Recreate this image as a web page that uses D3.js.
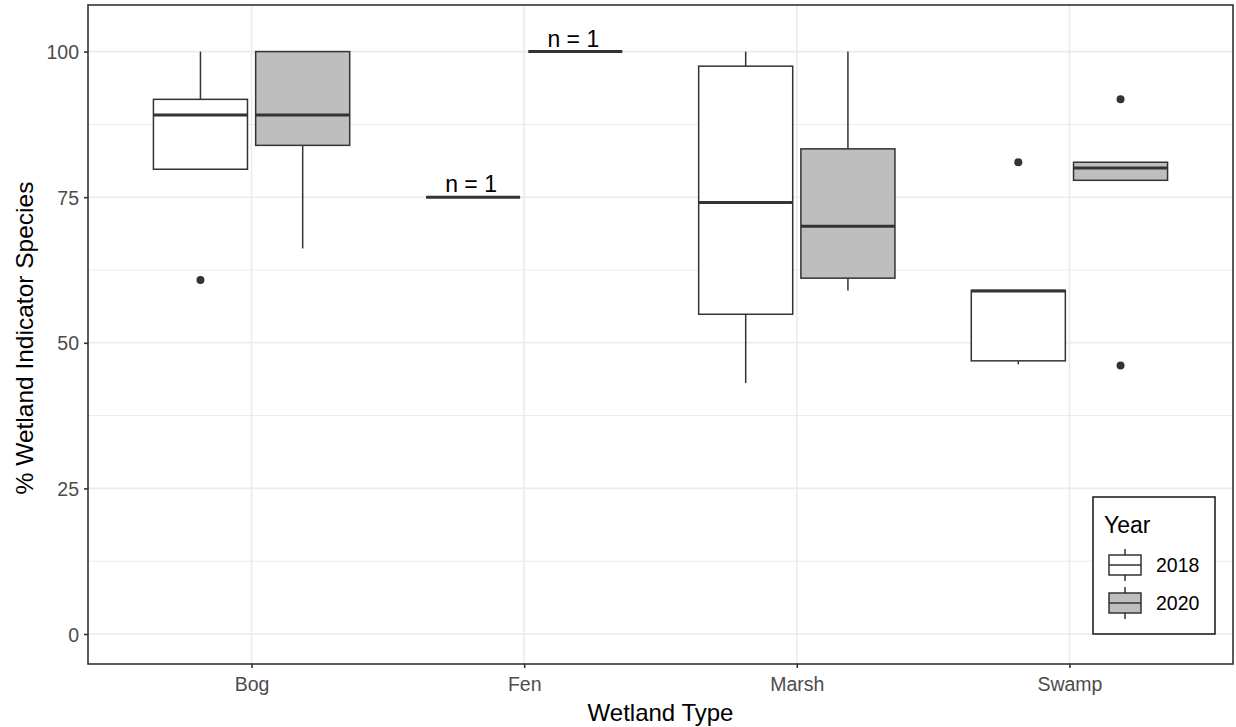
<!DOCTYPE html>
<html>
<head>
<meta charset="utf-8">
<script src="https://cdn.jsdelivr.net/npm/d3@7"></script>
<style>
body { margin: 0; background: #fff; }
svg { display: block; font-family: "Liberation Sans", Arial, sans-serif; }
</style>
</head>
<body>
<svg width="1236" height="727"></svg>
<script>
// data
var categories = ['Bog', 'Fen', 'Marsh', 'Swamp'];
var years = ['2018', '2020'];
var yTicks = [0, 25, 50, 75, 100];
var yMinor = [12.5, 37.5, 62.5, 87.5];

// [lower whisker, q1, median, q3, upper whisker] per category
var stats2018 = [
	[79.8, 79.8, 89.1, 91.8, 100],
	[75, 75, 75, 75, 75],
	[43.1, 54.9, 74.1, 97.5, 100],
	[46.3, 46.9, 58.9, 59.0, 59.0]
];
var stats2020 = [
	[66.2, 83.9, 89.1, 100, 100],
	[100, 100, 100, 100, 100],
	[59.0, 61.1, 70.0, 83.3, 100],
	[77.9, 77.9, 80.0, 81.0, 81.0]
];
var outliers2018 = [[60.8], [], [], [81.0]];
var outliers2020 = [[], [], [], [91.8, 46.1]];
var countLabels = [
	{cat: 'Fen', year: '2018', value: 75, text: 'n = 1'},
	{cat: 'Fen', year: '2020', value: 100, text: 'n = 1'}
];
var fills = {'2018': '#ffffff', '2020': '#bebebe'};

var pLeft = 88, pRight = 1233, pTop = 5, pBottom = 664;
var svg = d3.select('svg');

// ggplot discrete expand: 0.6 units on each side
var x = d3.scalePoint().domain(categories).range([pLeft, pRight]).padding(0.6);
var unit = x.step();
var dodge = d3.scaleBand().domain(years).range([-0.375 * unit, 0.375 * unit]);
var boxW = 0.345 * unit;
var y = d3.scaleLinear().domain([-5.15, 108]).range([pBottom, pTop]);

// grid
var grid = svg.append('g');
grid.selectAll('.minor').data(yMinor).enter().append('line')
	.attr('x1', pLeft).attr('x2', pRight)
	.attr('y1', function(d){return y(d)}).attr('y2', function(d){return y(d)})
	.attr('stroke', '#ebebeb').attr('stroke-width', 1);
grid.selectAll('.major').data(yTicks).enter().append('line')
	.attr('x1', pLeft).attr('x2', pRight)
	.attr('y1', function(d){return y(d)}).attr('y2', function(d){return y(d)})
	.attr('stroke', '#ebebeb').attr('stroke-width', 1.6);
grid.selectAll('.vmajor').data(categories).enter().append('line')
	.attr('y1', pTop).attr('y2', pBottom)
	.attr('x1', function(d){return x(d)}).attr('x2', function(d){return x(d)})
	.attr('stroke', '#ebebeb').attr('stroke-width', 1.6);

// boxes
var boxes = [];
categories.forEach(function(c, i){
	boxes.push({cat: c, year: '2018', s: stats2018[i], out: outliers2018[i]});
	boxes.push({cat: c, year: '2020', s: stats2020[i], out: outliers2020[i]});
});

var g = svg.append('g');
boxes.forEach(function(b){
	var cx = x(b.cat) + dodge(b.year) + dodge.bandwidth() / 2;
	var s = b.s;
	var bg = g.append('g');
	if (s[4] > s[3]) bg.append('line').attr('x1', cx).attr('x2', cx)
		.attr('y1', y(s[3])).attr('y2', y(s[4])).attr('stroke', '#333').attr('stroke-width', 1.5);
	if (s[0] < s[1]) bg.append('line').attr('x1', cx).attr('x2', cx)
		.attr('y1', y(s[1])).attr('y2', y(s[0])).attr('stroke', '#333').attr('stroke-width', 1.5);
	bg.append('rect')
		.attr('x', cx - boxW / 2).attr('width', boxW)
		.attr('y', y(s[3])).attr('height', Math.max(0, y(s[1]) - y(s[3])))
		.attr('fill', fills[b.year]).attr('stroke', '#333').attr('stroke-width', 1.5);
	bg.append('line').attr('x1', cx - boxW / 2).attr('x2', cx + boxW / 2)
		.attr('y1', y(s[2])).attr('y2', y(s[2]))
		.attr('stroke', '#333').attr('stroke-width', 3);
	bg.selectAll('circle').data(b.out).enter().append('circle')
		.attr('cx', cx).attr('cy', function(d){return y(d)}).attr('r', 4)
		.attr('fill', '#333');
});

// n = 1 labels
g.selectAll('.nlab').data(countLabels).enter().append('text')
	.attr('x', function(d){return x(d.cat) + dodge(d.year) + dodge.bandwidth() / 2 - 2})
	.attr('y', function(d){return y(d.value) - 5})
	.attr('text-anchor', 'middle').attr('font-size', 23).attr('fill', '#000')
	.text(function(d){return d.text});

// panel border
svg.append('rect').attr('x', pLeft).attr('y', pTop)
	.attr('width', pRight - pLeft).attr('height', pBottom - pTop)
	.attr('fill', 'none').attr('stroke', '#333').attr('stroke-width', 1.6);

// axes
var yAxis = svg.append('g').attr('transform', 'translate(' + pLeft + ',0)')
	.call(d3.axisLeft(y).tickValues(yTicks).tickSize(4).tickPadding(5));
var xAxis = svg.append('g').attr('transform', 'translate(0,' + pBottom + ')')
	.call(d3.axisBottom(x).tickSize(4).tickPadding(9));
[yAxis, xAxis].forEach(function(a){
	a.select('.domain').remove();
	a.selectAll('.tick line').attr('stroke', '#333').attr('stroke-width', 1.6);
	a.selectAll('.tick text').attr('fill', '#4d4d4d').attr('font-size', 19.5)
		.attr('font-family', '"Liberation Sans", Arial, sans-serif');
});
yAxis.selectAll('.tick text').attr('dy', '0.36em');

svg.append('text').attr('x', (pLeft + pRight) / 2).attr('y', 721)
	.attr('text-anchor', 'middle').attr('font-size', 24).attr('fill', '#000')
	.text('Wetland Type');
svg.append('text').attr('transform', 'translate(33,338) rotate(-90)')
	.attr('text-anchor', 'middle').attr('font-size', 24.5).attr('fill', '#000')
	.text('% Wetland Indicator Species');

// legend
var lg = svg.append('g').attr('transform', 'translate(1093,497)');
lg.append('rect').attr('width', 122).attr('height', 137)
	.attr('fill', '#fff').attr('stroke', '#222').attr('stroke-width', 1.6);
lg.append('text').attr('x', 11).attr('y', 36).attr('font-size', 23).attr('fill', '#000').text('Year');
var keys = lg.selectAll('.key').data(years).enter().append('g')
	.attr('transform', function(d, i){return 'translate(32,' + (68 + i * 38) + ')'});
keys.append('line').attr('y1', -16).attr('y2', 16).attr('stroke', '#333').attr('stroke-width', 1.5);
keys.append('rect').attr('x', -16).attr('width', 32).attr('y', -10).attr('height', 20)
	.attr('fill', function(d){return fills[d]}).attr('stroke', '#333').attr('stroke-width', 1.5);
keys.append('line').attr('x1', -16).attr('x2', 16).attr('stroke', '#333').attr('stroke-width', 1.5);
keys.append('text').attr('x', 31).attr('y', 7).attr('font-size', 19.5).attr('fill', '#000')
	.text(function(d){return d});
</script>
</body>
</html>
